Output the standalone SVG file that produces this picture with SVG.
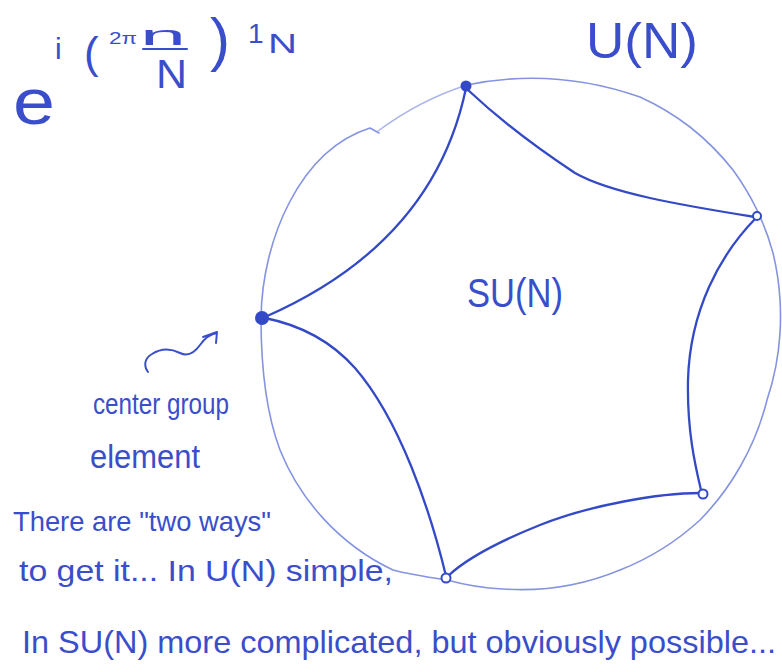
<svg xmlns="http://www.w3.org/2000/svg" width="782" height="672" viewBox="0 0 782 672">
<defs>
<style>
.ink{fill:#3a4ecb;font-family:"Liberation Sans","DejaVu Sans",sans-serif;}
.circ{fill:none;stroke:#8594e0;stroke-width:1.6;stroke-linecap:round;stroke-linejoin:round;}
.faint{fill:none;stroke:#aab4ea;stroke-width:1.4;stroke-linecap:round;}
.edge{fill:none;stroke:#3449c6;stroke-width:2.3;stroke-linecap:round;}
.pen{fill:none;stroke:#3a4ecb;stroke-width:2;stroke-linecap:round;stroke-linejoin:round;}
.vtx{fill:#fff;stroke:#3449c6;stroke-width:2;}
.vfill{fill:#3449c6;stroke:#3449c6;stroke-width:2;}
</style>
</defs>
<rect width="782" height="672" fill="#fff"/>

<g id="formula">
<text class="ink" x="13" y="124" font-size="64" textLength="42" lengthAdjust="spacingAndGlyphs">e</text>
<text class="ink" x="55" y="59" font-size="30">i</text>
<text class="ink" x="84" y="68" font-size="44">(</text>
<text class="ink" x="109" y="44" font-size="16" textLength="28" lengthAdjust="spacingAndGlyphs">2π</text>
<text class="ink" x="140" y="45" font-size="28" textLength="46" lengthAdjust="spacingAndGlyphs">n</text>
<line class="pen" x1="143" y1="49" x2="187" y2="49"/>
<text class="ink" x="156" y="88" font-size="40" textLength="31" lengthAdjust="spacingAndGlyphs">N</text>
<text class="ink" x="210" y="60" font-size="60">)</text>
<text class="ink" x="248" y="43" font-size="28">1</text>
<text class="ink" x="268" y="53" font-size="28" textLength="29" lengthAdjust="spacingAndGlyphs">N</text>
</g>

<g id="label-UN">
<text class="ink" x="586" y="58" font-size="50" textLength="112" lengthAdjust="spacingAndGlyphs">U(N)</text>
</g>

<g id="circle-UN">
<path class="circ" d="M261,318 C262,240 300,150 370,128 L379,133"/>
<path class="faint" d="M378,131 Q420,100 467,85"/>
<path class="circ" d="M467,85 C520,74 580,76 640,97 A258,258 0 0 1 690,127 A258,258 0 0 1 733,170 A258,258 0 0 1 757,210 A258,258 0 0 1 773,253 A258,258 0 0 1 780,300 A258,258 0 0 1 780,333 A258,258 0 0 1 767,400 A258,258 0 0 1 740,467 A258,258 0 0 1 700,520 A258,258 0 0 1 620,570 A258,258 0 0 1 503,589 A258,258 0 0 1 447,580 C420,576 400,572 393,570 C340,545 300,500 280,450 C265,410 261,360 261,318"/>
</g>

<g id="connectors">
<path class="edge" d="M466,88 C448,175 395,260 265,317"/>
<path class="edge" d="M468,90 C500,120 540,150 575,173 C610,193 680,205 755,217"/>
<path class="edge" d="M755,219 C720,255 690,310 688,380 C687,430 695,465 701,490"/>
<path class="edge" d="M700,493 C660,493 590,505 540,525 C495,543 465,560 448,576"/>
<path class="edge" d="M446,576 C430,510 400,420 355,368 C330,340 300,325 265,318"/>
</g>

<g id="v-top"><circle class="vfill" cx="466" cy="86" r="4.5"/></g>
<g id="v-right"><circle class="vtx" cx="757" cy="216" r="4"/></g>
<g id="v-bottom-right"><circle class="vtx" cx="703" cy="494" r="4.5"/></g>
<g id="v-bottom"><circle class="vtx" cx="446" cy="578" r="4.5"/></g>
<g id="v-left"><circle class="vfill" cx="262" cy="318" r="6"/></g>

<g id="label-SUN">
<text class="ink" x="467" y="307" font-size="40" textLength="96" lengthAdjust="spacingAndGlyphs">SU(N)</text>
</g>

<g id="center-note">
<path class="pen" d="M148,372 C143,365 145,358 152,354 C160,349 170,348 180,353 C188,357 195,352 200,345 C205,338 210,334 217,333 M203,337 L217,332 L216,343"/>
<text class="ink" x="93" y="414" font-size="30" textLength="136" lengthAdjust="spacingAndGlyphs">center group</text>
<text class="ink" x="90" y="468" font-size="34" textLength="110" lengthAdjust="spacingAndGlyphs">element</text>
</g>

<g id="notes">
<text class="ink" x="13" y="531" font-size="28" textLength="258" lengthAdjust="spacingAndGlyphs">There are "two ways"</text>
<text class="ink" x="19" y="581" font-size="30" textLength="374" lengthAdjust="spacingAndGlyphs">to get it... In U(N) simple,</text>
<text class="ink" x="22" y="653" font-size="32" textLength="754" lengthAdjust="spacingAndGlyphs">In SU(N) more complicated, but obviously possible...</text>
</g>
</svg>
